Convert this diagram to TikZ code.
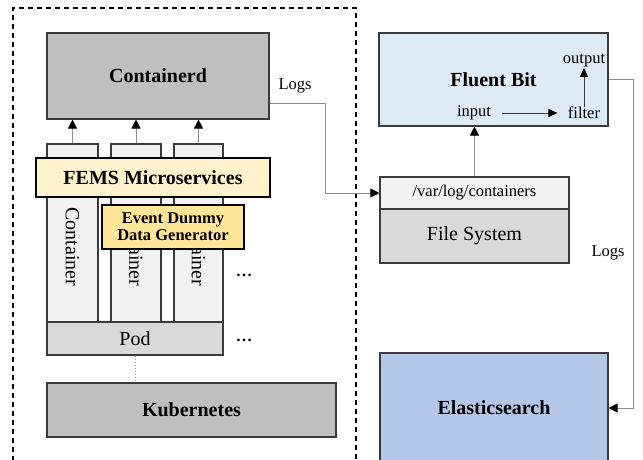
\documentclass[tikz,border=0pt]{standalone}
\usepackage{fontspec}
\setmainfont{Liberation Serif}
\usepackage{tikz}
\usetikzlibrary{arrows.meta,calc}
\definecolor{boxgray}{HTML}{BFBFBF}
\definecolor{lightgray}{HTML}{F2F2F2}
\definecolor{midgray}{HTML}{D9D9D9}
\definecolor{femsyellow}{HTML}{FFF2CC}
\definecolor{eventyellow}{HTML}{FFE699}
\definecolor{fluentblue}{HTML}{DEEBF7}
\definecolor{elasticblue}{HTML}{B4C7E7}
\definecolor{linegray}{HTML}{8C8C8C}
\definecolor{edgegray}{HTML}{3A3A3A}

\begin{document}
\begin{tikzpicture}[x=1pt,y=-1pt,
  box/.style={draw=edgegray,line width=1.1pt,inner sep=0pt,font=\fontsize{20}{24}\selectfont},
  bigbox/.style={box,font=\fontsize{20}{24}\selectfont\bfseries},
  hotbox/.style={draw=black,line width=2.2pt,inner sep=0pt,align=center},
  conn/.style={draw=linegray,line width=1pt,-{Triangle[black,length=9pt,width=9pt]}},
  small/.style={font=\fontsize{16.5}{19}\selectfont}]
\clip (0,0) rectangle (643,459);

% outer cluster
\draw[dash pattern=on 5pt off 4pt,line width=1.2pt] (13,470) -- (13,8) -- (356,8) -- (356,470);

\node[bigbox,fill=boxgray,minimum width=222,minimum height=86] (containerd) at (158,76) {Containerd};

% containers and pod
\node[box,fill=lightgray,minimum width=51,minimum height=178] (c1) at (72.5,233) {};
\node[box,fill=lightgray,minimum width=50,minimum height=178] (c2) at (136,233) {};
\node[box,fill=lightgray,minimum width=49,minimum height=178] (c3) at (198.5,233) {};
\foreach \c in {c1,c2,c3}{
  \node[rotate=-90,font=\fontsize{20}{24}\selectfont] at ([yshift=-14]\c.center) {Container};
  \draw[conn] (\c.north) -- (\c.north |- containerd.south);
}
\node[box,fill=midgray,minimum width=176,minimum height=33] (pod) at (135,338.5) {Pod};

\node[hotbox,fill=femsyellow,minimum width=234,minimum height=39,font=\fontsize{20}{24}\selectfont\bfseries] (fems) at (153,177.5) {FEMS Microservices};
\node[hotbox,fill=eventyellow,minimum width=142,minimum height=44,font=\fontsize{16.5}{19}\selectfont\bfseries] (event) at (173,227) {Event Dummy\\[-2pt]Data Generator};

\node[small,font=\fontsize{16.5}{19}\selectfont\bfseries] (dots1) at (244,275) {\dots};
\node[small,font=\fontsize{16.5}{19}\selectfont\bfseries] (dots2) at (244,340) {\dots};

\node[bigbox,fill=boxgray,minimum width=289,minimum height=54] (kube) at (191.5,410) {Kubernetes};
\draw[linegray,dotted,line width=1pt] (pod.south) -- (pod.south |- kube.north);

% logging side
\node[bigbox,fill=fluentblue,minimum width=229,minimum height=93] (fluent) at (493.5,79.5) {Fluent Bit};
\node[small] (input) at (474,113) {input};
\node[small] (filter) at (584,113) {filter};
\node[small] (output) at (584,61) {output};
\draw[draw=edgegray,line width=0.9pt,-{Triangle[black,length=9pt,width=8pt]}] ([xshift=8]input.east) -- ([xshift=-7]filter.west);
\draw[draw=edgegray,line width=0.9pt,-{Triangle[black,length=9pt,width=8pt]}] ([yshift=-3]filter.north) -- ([yshift=3]output.south);

\node[box,fill=lightgray,minimum width=189,minimum height=32,font=\fontsize{16.5}{19}\selectfont] (varlog) at (474.5,193) {/var/log/containers};
\node[box,fill=midgray,minimum width=189,minimum height=54] (fs) at (474.5,236) {File System};

\node[bigbox,fill=elasticblue,minimum width=228,minimum height=120] (elastic) at (494,413) {};
\node[font=\fontsize{20}{24}\selectfont\bfseries] at (494,408) {Elasticsearch};

% connectors
\draw[conn] ([yshift=-27]containerd.east) -- ++(56,0) |- (varlog.west);
\node[small] (logs1) at (295,86) {Logs};
\draw[conn] (varlog.north) -- (varlog.north |- fluent.south);
\draw[conn] (fluent.east) -- ++(25,0) |- ([yshift=5]elastic.east);
\node[small] (logs2) at (608,253) {Logs};
\end{tikzpicture}
\end{document}
